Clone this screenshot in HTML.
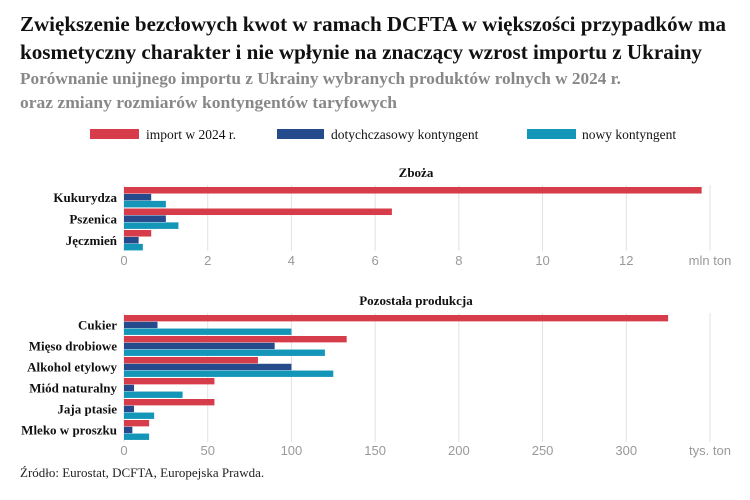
<!DOCTYPE html>
<html><head><meta charset="utf-8"><style>
body{margin:0;background:#fff}
svg{display:block;font-family:"Liberation Serif",serif}
</style></head><body>
<svg id="c" width="750" height="500" viewBox="0 0 750 500">
<text x="20" y="31" font-size="21" font-weight="bold" fill="#111" textLength="706" lengthAdjust="spacingAndGlyphs">Zwiększenie bezcłowych kwot w ramach DCFTA w większości przypadków ma</text>
<text x="20" y="59" font-size="21" font-weight="bold" fill="#111" textLength="682" lengthAdjust="spacingAndGlyphs">kosmetyczny charakter i nie wpłynie na znaczący wzrost importu z Ukrainy</text>
<text x="20" y="84" font-size="16.5" font-weight="bold" fill="#888" textLength="601" lengthAdjust="spacingAndGlyphs">Porównanie unijnego importu z Ukrainy wybranych produktów rolnych w 2024 r.</text>
<text x="20" y="108" font-size="16.5" font-weight="bold" fill="#888" textLength="377" lengthAdjust="spacingAndGlyphs">oraz zmiany rozmiarów kontyngentów taryfowych</text>
<g>
<rect x="90" y="129" width="49" height="10" fill="#d63c4a"/>
<text x="146" y="139" font-size="13.5" fill="#111">import w 2024 r.</text>
<rect x="277" y="129" width="47" height="10" fill="#264b8c"/>
<text x="331" y="139" font-size="13.5" fill="#111">dotychczasowy kontyngent</text>
<rect x="527" y="129" width="49" height="10" fill="#1396b8"/>
<text x="582" y="139" font-size="13.5" fill="#111">nowy kontyngent</text>
</g>
<text x="416" y="177" font-size="13" font-weight="bold" text-anchor="middle" fill="#111">Zboża</text>
<text x="416" y="305" font-size="13" font-weight="bold" text-anchor="middle" fill="#111">Pozostała produkcja</text>
<text x="20" y="477" font-size="13" fill="#222">Źródło: Eurostat, DCFTA, Europejska Prawda.</text>
</svg>
<script>
const grainCats=["Kukurydza","Pszenica","Jęczmień"];
const grainImport=[13.8,6.4,0.65];
const grainOld=[0.65,1.0,0.35];
const grainNew=[1.0,1.3,0.45];
const grainTicks=[0,2,4,6,8,10,12];
const otherCats=["Cukier","Mięso drobiowe","Alkohol etylowy","Miód naturalny","Jaja ptasie","Mleko w proszku"];
const otherImport=[325,133,80,54,54,15];
const otherOld=[20,90,100,6,6,5];
const otherNew=[100,120,125,35,18,15];
const otherTicks=[0,50,100,150,200,250,300];

const svg=document.getElementById('c');
const NS="http://www.w3.org/2000/svg";
function mk(t,a){const e=document.createElementNS(NS,t);for(const k in a)e.setAttribute(k,a[k]);svg.appendChild(e);return e;}
const colors=["#d63c4a","#264b8c","#1396b8"];
const snames=["import","old-quota","new-quota"];
function panel(id,cats,series,ticks,max,unit,top,bottom,groupH,tickY){
  const x0=124,x1=710;
  const xs=v=>x0+v/max*(x1-x0);
  const step=ticks[1]-ticks[0];
  const all=ticks.concat([ticks[ticks.length-1]+step]);
  all.forEach((t,i)=>{
    const gx=xs(t);
    const l=mk('line',{x1:gx,x2:gx,y1:top-2,y2:bottom,stroke:'#e2e2e2','stroke-width':1});
    
    
    const tx=mk('text',{x:gx,y:tickY,'font-size':13,'text-anchor':'middle',fill:'#999','font-family':'Liberation Sans, sans-serif'});
    tx.textContent=i===all.length-1?unit:t;
    
    
  });
  const bh=groupH/3.1;
  cats.forEach((c,i)=>{
    const gy=top+i*groupH;
    series.forEach((s,j)=>{
      const r=mk('rect',{x:x0,y:gy+j*bh,width:Math.max(0,xs(s[i])-x0),height:bh-0.4,fill:colors[j]});
      
      
    });
    const lb=mk('text',{x:117,y:gy+bh*1.5+4.5,'font-size':13,'font-weight':'bold','text-anchor':'end',fill:'#111'});
    lb.textContent=c;
    
    
  });
}
panel('grains',grainCats,[grainImport,grainOld,grainNew],grainTicks,14,'mln ton',187,251,21.5,265);
panel('other',otherCats,[otherImport,otherOld,otherNew],otherTicks,350,'tys. ton',315,442,21,455);
</script>
</body></html>
